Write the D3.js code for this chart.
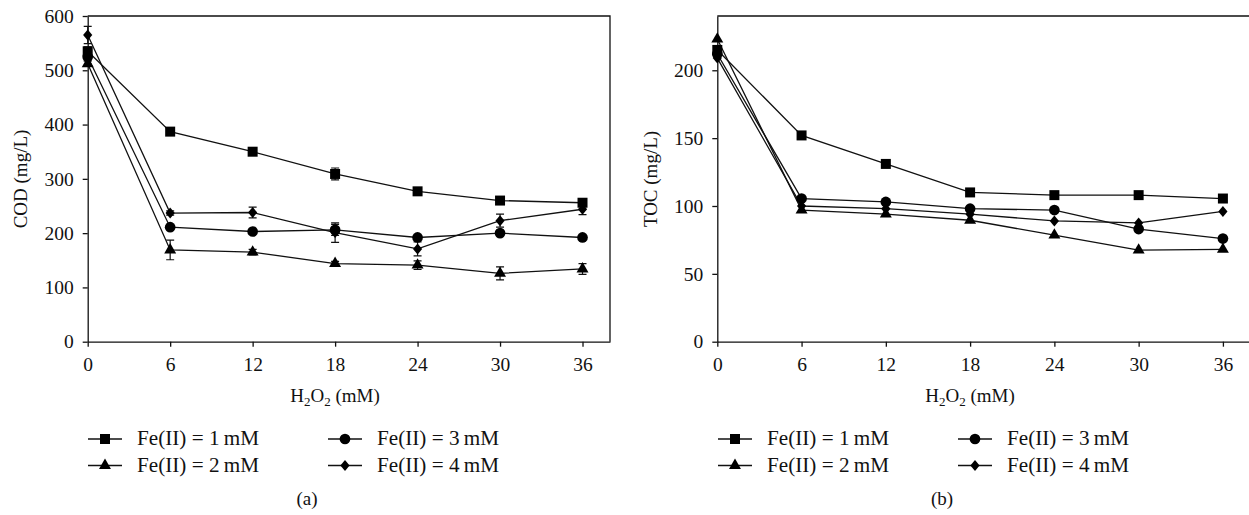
<!DOCTYPE html>
<html>
<head>
<meta charset="utf-8">
<script src="https://cdn.jsdelivr.net/npm/d3@7"></script>
<style>
body { margin: 0; background: #fff; }
text { font-family: "Liberation Serif", "Times New Roman", serif; fill: #111; }
.axis path, .axis line { stroke: #111; stroke-width: 1.3; }
.axis text { font-size: 19.5px; font-family: "Liberation Serif", serif; }
</style>
</head>
<body>
<svg id="chart" width="1249" height="515"></svg>
<script>
// H2O2 dose (mM)
var doses = [0, 6, 12, 18, 24, 30, 36];
var seriesNames = ["Fe(II) = 1\u2009mM", "Fe(II) = 2\u2009mM", "Fe(II) = 3\u2009mM", "Fe(II) = 4\u2009mM"];
var symbols = ["square", "triangle", "circle", "diamond"];

// COD (mg/L) per Fe(II) dose
var cod1 = [535, 387, 350, 309, 277, 260, 256];
var cod2 = [512, 169, 165, 144, 141, 126, 134];
var cod3 = [525, 211, 203, 206, 192, 200, 192];
var cod4 = [565, 237, 238, 201, 171, 223, 244];
// COD error bars (+/-)
var codErr1 = [8, 3, 4, 11, 5, 4, 6];
var codErr2 = [5, 18, 5, 4, 8, 12, 10];
var codErr3 = [6, 4, 4, 10, 4, 4, 4];
var codErr4 = [16, 4, 10, 18, 13, 12, 10];

// TOC (mg/L) per Fe(II) dose
var toc1 = [215, 152, 131, 110, 108, 108, 105.5];
var toc2 = [223, 97, 94, 89.5, 78.5, 67.5, 68];
var toc3 = [212, 105.5, 103, 98, 97, 83, 76];
var toc4 = [209, 100, 98, 94, 89, 87.5, 96];

var codTicks = [0, 100, 200, 300, 400, 500, 600];
var tocTicks = [0, 50, 100, 150, 200];
var xTicks = [0, 6, 12, 18, 24, 30, 36];

var svg = d3.select("#chart");

function markerPath(type) {
    if (type == "diamond") return "M0,-5.5L4.6,0L0,5.5L-4.6,0Z";
    var t = {square: d3.symbolSquare, triangle: d3.symbolTriangle, circle: d3.symbolCircle}[type];
    var size = {square: 100, triangle: 62, circle: 90}[type];
    return d3.symbol().type(t).size(size)();
}

function drawPanel(opt) {
    var x = d3.scaleLinear().domain([0, 38]).range([opt.left, opt.right]);
    var y = d3.scaleLinear().domain(opt.yDomain).range([341.7, 16]);
    var g = svg.append("g");

    // frame (top and right)
    g.append("path")
        .attr("d", "M" + x(0) + ",16H" + x(38) + "V341.7")
        .attr("fill", "none").attr("stroke", "#111").attr("stroke-width", 1.3);

    g.append("g").attr("class", "axis")
        .attr("transform", "translate(0,341.7)")
        .call(d3.axisBottom(x).tickValues(xTicks).tickSize(5).tickPadding(10).tickSizeOuter(0));

    g.append("g").attr("class", "axis")
        .attr("transform", "translate(" + x(0) + ",0)")
        .call(d3.axisLeft(y).tickValues(opt.yTicks).tickSize(5).tickPadding(9).tickSizeOuter(0));
    g.selectAll(".axis text").attr("fill", "#111");

    // y title
    g.append("text")
        .attr("transform", "translate(" + opt.yTitleX + ",179) rotate(-90)")
        .attr("text-anchor", "middle")
        .attr("dy", "0.35em")
        .style("font-size", "19px")
        .text(opt.yTitle);

    // x title with subscripts
    var xt = g.append("text")
        .attr("x", opt.xTitleX).attr("y", 402)
        .attr("text-anchor", "middle")
        .style("font-size", "19px");
    xt.append("tspan").text("H");
    xt.append("tspan").attr("dy", 4).style("font-size", "13px").text("2");
    xt.append("tspan").attr("dy", -4).text("O");
    xt.append("tspan").attr("dy", 4).style("font-size", "13px").text("2");
    xt.append("tspan").attr("dy", -4).text(" (mM)");

    var line = d3.line().x(function(d, i) { return x(doses[i]); }).y(function(d) { return y(d); });

    opt.data.forEach(function(vals, s) {
        g.append("path").datum(vals)
            .attr("d", line)
            .attr("fill", "none").attr("stroke", "#111").attr("stroke-width", 1.3);
    });

    if (opt.errs) {
        opt.data.forEach(function(vals, s) {
            var e = opt.errs[s];
            vals.forEach(function(v, i) {
                var cx = x(doses[i]);
                var y0 = y(v - e[i]), y1 = y(v + e[i]);
                g.append("path")
                    .attr("d", "M" + cx + "," + y0 + "V" + y1 + "M" + (cx - 4) + "," + y0 + "h8M" + (cx - 4) + "," + y1 + "h8")
                    .attr("fill", "none").attr("stroke", "#111").attr("stroke-width", 1.2);
            });
        });
    }

    opt.data.forEach(function(vals, s) {
        g.selectAll(null).data(vals).enter().append("path")
            .attr("d", markerPath(symbols[s]))
            .attr("transform", function(d, i) { return "translate(" + x(doses[i]) + "," + y(d) + ")"; })
            .attr("fill", "#000");
    });

    // legend
    var legX = [opt.legLeft, opt.legLeft + 240];
    var legY = [439, 465.5];
    seriesNames.forEach(function(name, s) {
        var col = s < 2 ? 0 : 1, row = s % 2;
        var lx = legX[col], ly = legY[row];
        g.append("line")
            .attr("x1", lx).attr("x2", lx + 34).attr("y1", ly).attr("y2", ly)
            .attr("stroke", "#111").attr("stroke-width", 1.3);
        g.append("path").attr("d", markerPath(symbols[s]))
            .attr("transform", "translate(" + (lx + 17) + "," + ly + ")")
            .attr("fill", "#000");
        g.append("text")
            .attr("x", lx + 49).attr("y", ly + 6)
            .attr("textLength", 122).attr("lengthAdjust", "spacingAndGlyphs")
            .style("font-size", "20px")
            .text(name);
    });

    g.append("text")
        .attr("x", opt.capX).attr("y", 505)
        .attr("text-anchor", "middle")
        .style("font-size", "19px")
        .text(opt.caption);
}

drawPanel({
    left: 87.7, right: 610,
    yDomain: [0, 600], yTicks: codTicks,
    yTitle: "COD (mg/L)", yTitleX: 20,
    xTitleX: 335,
    data: [cod1, cod2, cod3, cod4],
    errs: [codErr1, codErr2, codErr3, codErr4],
    legLeft: 88, capX: 307, caption: "(a)"
});

drawPanel({
    left: 717.3, right: 1251,
    yDomain: [0, 240], yTicks: tocTicks,
    yTitle: "TOC (mg/L)", yTitleX: 650,
    xTitleX: 970,
    data: [toc1, toc2, toc3, toc4],
    errs: null,
    legLeft: 718, capX: 942, caption: "(b)"
});
</script>
</body>
</html>
